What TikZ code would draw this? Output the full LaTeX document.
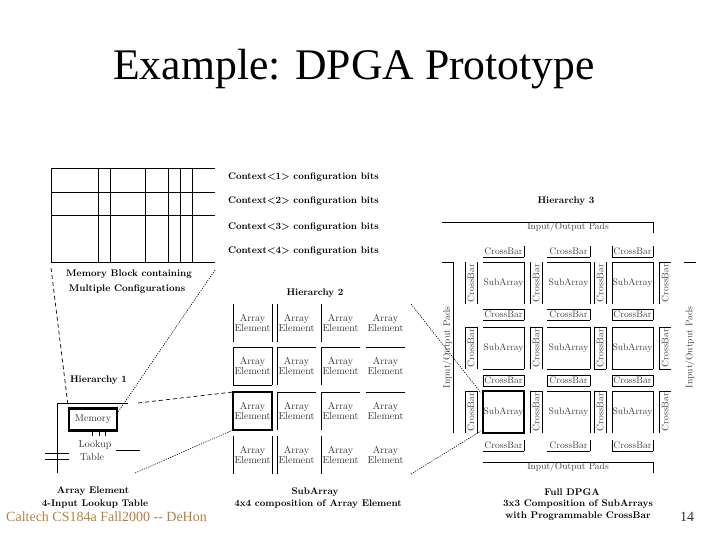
\documentclass[tikz,border=0pt]{standalone}
\usepackage{fontspec}
\usepackage{xcolor}
\usetikzlibrary{positioning}
\newfontfamily\slidefont{Liberation Serif}
\definecolor{footbrown}{HTML}{B9803C}

\begin{document}
\begin{tikzpicture}[
    x=1pt, y=-1pt,
    node distance=5pt and 5pt,
    wire/.style={line width=0.9pt, line cap=rect},
    sideT/.style={append after command={(\tikzlastnode.north west) edge[wire] (\tikzlastnode.north east)}},
    sideB/.style={append after command={(\tikzlastnode.south west) edge[wire] (\tikzlastnode.south east)}},
    sideL/.style={append after command={(\tikzlastnode.north west) edge[wire] (\tikzlastnode.south west)}},
    sideR/.style={append after command={(\tikzlastnode.north east) edge[wire] (\tikzlastnode.south east)}},
    lbl/.style={inner sep=0pt, outer sep=0pt, align=center, font=\bfseries\fontsize{9.65}{12.5}\selectfont},
    aelem/.style={inner sep=0pt, outer sep=0pt, align=center, minimum width=39pt, minimum height=38pt,
        text=black!80, font=\fontsize{10}{9.5}\selectfont},
    subarr/.style={inner sep=0pt, outer sep=0pt, minimum width=41pt, minimum height=42pt,
        text=black!75, font=\fontsize{9.5}{10}\selectfont},
    hbar/.style={inner sep=0pt, outer sep=0pt, minimum width=41pt, minimum height=11pt,
        text=black!75, font=\fontsize{9.5}{10}\selectfont},
    vbar/.style={inner sep=0pt, outer sep=0pt, minimum width=12pt, minimum height=42pt,
        text=black!75, font=\fontsize{9.5}{10}\selectfont},
    padbar/.style={inner sep=0pt, outer sep=0pt, text=black!75, font=\fontsize{9.5}{10}\selectfont},
    midcol/.style={minimum width=43pt},
    hot/.style={draw, line width=2.6pt},
    linkdash/.style={line width=0.7pt, dashed, dash pattern=on 4pt off 3pt},
    linkdot/.style={line width=0.6pt, dash pattern=on 1.2pt off 1.2pt}
]
    \useasboundingbox (0,0) rectangle (720,540);

    % Slide texts
    \node[anchor=base west, inner sep=0pt, font=\slidefont\fontsize{43.7}{44}\selectfont] (title) at (113,80) {Example: DPGA Prototype};
    \node[anchor=base west, inner sep=0pt, text=footbrown, font=\slidefont\fontsize{14}{14}\selectfont] (foot) at (6,521) {Caltech CS184a Fall2000 -- DeHon};
    \node[anchor=base west, inner sep=0pt, text=black!80, font=\slidefont\fontsize{14}{14}\selectfont] (pageno) at (680,521) {14};

    % Memory block
    \node[anchor=north west, inner sep=0pt, outer sep=0pt, minimum width=164pt, minimum height=94pt, sideT, sideB, sideL] (memblk) at (51,168) {};
    \draw[wire] ([yshift=-24pt]memblk.north west) -- ([yshift=-24pt]memblk.north east);
    \draw[wire] ([yshift=-47pt]memblk.north west) -- ([yshift=-47pt]memblk.north east);
    \draw[wire] ([xshift=47pt]memblk.north west) -- ([xshift=47pt]memblk.south west);
    \draw[wire] ([xshift=59pt]memblk.north west) -- ([xshift=59pt]memblk.south west);
    \draw[wire] ([xshift=94pt]memblk.north west) -- ([xshift=94pt]memblk.south west);
    \draw[wire] ([xshift=117pt]memblk.north west) -- ([xshift=117pt]memblk.south west);
    \draw[wire] ([xshift=129pt]memblk.north west) -- ([xshift=129pt]memblk.south west);
    \draw[wire] ([xshift=141pt]memblk.north west) -- ([xshift=141pt]memblk.south west);

    \node[lbl, anchor=west] (ctx1) at (228,177) {Context<1> configuration bits};
    \node[lbl, anchor=west] (ctx2) at (228,201) {Context<2> configuration bits};
    \node[lbl, anchor=west] (ctx3) at (228,227) {Context<3> configuration bits};
    \node[lbl, anchor=west] (ctx4) at (228,251) {Context<4> configuration bits};
    \node[lbl] (memcap1) at (129,274) {Memory Block containing};
    \node[lbl] (memcap2) at (127,289) {Multiple Configurations};

    % Hierarchy 1: array element
    \node[lbl, anchor=west] (hier1) at (70,380) {Hierarchy 1};
    \node[anchor=north west, inner sep=0pt, outer sep=0pt, minimum width=71pt, minimum height=70pt, sideT, sideL] (lut) at (57,403) {};
    \node[anchor=north west, inner sep=0pt, outer sep=0pt, minimum width=48pt, minimum height=22pt, hot, font=\fontsize{10}{10}\selectfont, text=black!80] (mem) at (69,408.5) {Memory};
    \node[lbl, font=\fontsize{10}{10}\selectfont, text=black!80] (lkup) at (95,445) {Lookup};
    \node[lbl, font=\fontsize{10}{10}\selectfont, text=black!80] (tbl) at (92,457) {Table};
    \draw[wire] ([xshift=-1pt]mem.south) -- ([xshift=-1pt,yshift=-5pt]mem.south);
    \draw[wire] ([xshift=6pt]mem.south) -- ([xshift=6pt,yshift=-5pt]mem.south);
    \draw[wire] ([xshift=12pt]mem.south) -- ([xshift=12pt,yshift=-5pt]mem.south);
    \coordinate (outA) at (116,450);
    \coordinate (outB) at (140,450);
    \coordinate (inA) at (45,453);
    \coordinate (inB) at (69,453);
    \coordinate (inC) at (45,459);
    \coordinate (inD) at (69,459);
    \draw[wire] (outA) -- (outB);
    \draw[wire] (inA) -- (inB);
    \draw[wire] (inC) -- (inD);
    \node[lbl] (aecap1) at (93,491) {Array Element};
    \node[lbl] (aecap2) at (95,504) {4-Input Lookup Table};

    % Hierarchy 2: sub array
    \node[lbl] (hier2) at (315,293) {Hierarchy 2};
    \node[aelem, anchor=north west, sideL, sideR] (ae11) at (233,304) {Array\\Element};
    \node[aelem, right=of ae11, sideL] (ae12) {Array\\Element};
    \node[aelem, right=of ae12, sideL] (ae13) {Array\\Element};
    \node[aelem, right=6pt of ae13] (ae14) {Array\\Element};
    \node[aelem, below=of ae11, sideT, sideB, sideL, sideR] (ae21) {Array\\Element};
    \node[aelem, right=of ae21, sideT, sideL] (ae22) {Array\\Element};
    \node[aelem, right=of ae22, sideT, sideL] (ae23) {Array\\Element};
    \node[aelem, right=6pt of ae23, sideT] (ae24) {Array\\Element};
    \node[aelem, below=7pt of ae21, hot] (ae31) {Array\\Element};
    \node[aelem, right=of ae31, sideT, sideL] (ae32) {Array\\Element};
    \node[aelem, right=of ae32, sideT, sideL] (ae33) {Array\\Element};
    \node[aelem, right=6pt of ae33, sideT] (ae34) {Array\\Element};
    \node[aelem, below=6pt of ae31, sideL, sideR] (ae41) {Array\\Element};
    \node[aelem, right=of ae41, sideL] (ae42) {Array\\Element};
    \node[aelem, right=of ae42, sideL] (ae43) {Array\\Element};
    \node[aelem, right=6pt of ae43] (ae44) {Array\\Element};
    \node[lbl] (sacap1) at (315,492) {SubArray};
    \node[lbl] (sacap2) at (318,504) {4x4 composition of Array Element};

    % Hierarchy 3: full DPGA
    \node[lbl] (hier3) at (566,201) {Hierarchy 3};
    \node[subarr, anchor=north west, sideT, sideR] (sa11) at (483,262) {SubArray};
    \node[subarr, midcol, right=23pt of sa11, sideT, sideR] (sa12) {SubArray};
    \node[subarr, right=22pt of sa12, sideT, sideL, sideR] (sa13) {SubArray};
    \node[hbar, above=of sa11, sideB, sideR] (hb11) {CrossBar};
    \node[hbar, midcol, above=of sa12, sideB, sideR] (hb12) {CrossBar};
    \node[hbar, above=of sa13, sideB, sideL, sideR] (hb13) {CrossBar};
    \node[hbar, below=of sa11, sideT, sideB, sideR] (hb21) {CrossBar};
    \node[hbar, midcol, below=of sa12, sideT, sideB, sideR] (hb22) {CrossBar};
    \node[hbar, below=of sa13, sideT, sideB, sideL, sideR] (hb23) {CrossBar};
    \node[subarr, below=7pt of hb21, sideT, sideB, sideR] (sa21) {SubArray};
    \node[subarr, midcol, below=7pt of hb22, sideT, sideB, sideR] (sa22) {SubArray};
    \node[subarr, below=7pt of hb23, sideT, sideB, sideL, sideR] (sa23) {SubArray};
    \node[hbar, below=6pt of sa21, sideT, sideB, sideL, sideR] (hb31) {CrossBar};
    \node[hbar, midcol, below=6pt of sa22, sideT, sideB, sideL, sideR] (hb32) {CrossBar};
    \node[hbar, below=6pt of sa23, sideT, sideB, sideL, sideR] (hb33) {CrossBar};
    \node[subarr, below=of hb31, hot] (sa31) {SubArray};
    \node[subarr, midcol, below=of hb32, sideT, sideR] (sa32) {SubArray};
    \node[subarr, below=of hb33, sideT, sideL, sideR] (sa33) {SubArray};
    \node[hbar, below=7pt of sa31, sideB, sideR] (hb41) {CrossBar};
    \node[hbar, midcol, below=7pt of sa32, sideB, sideR] (hb42) {CrossBar};
    \node[hbar, below=7pt of sa33, sideB, sideL, sideR] (hb43) {CrossBar};

    \node[vbar, left=6pt of sa11, sideL, sideR] (vb11) {\rotatebox{90}{CrossBar}};
    \node[vbar, right=6pt of sa11, sideL, sideR] (vb12) {\rotatebox{90}{CrossBar}};
    \node[vbar, left=6pt of sa13, sideL, sideR] (vb13) {\rotatebox{90}{CrossBar}};
    \node[vbar, right=6pt of sa13, sideT, sideL] (vb14) {\rotatebox{90}{CrossBar}};
    \node[vbar, left=6pt of sa21, sideT, sideL, sideR] (vb21) {\rotatebox{90}{CrossBar}};
    \node[vbar, right=6pt of sa21, sideT, sideL, sideR] (vb22) {\rotatebox{90}{CrossBar}};
    \node[vbar, left=6pt of sa23, sideT, sideB, sideL, sideR] (vb23) {\rotatebox{90}{CrossBar}};
    \node[vbar, right=6pt of sa23, sideT, sideB, sideL] (vb24) {\rotatebox{90}{CrossBar}};
    \node[vbar, left=6pt of sa31, sideT, sideL, sideR] (vb31) {\rotatebox{90}{CrossBar}};
    \node[vbar, right=6pt of sa31, sideT, sideL, sideR] (vb32) {\rotatebox{90}{CrossBar}};
    \node[vbar, left=6pt of sa33, sideT, sideL, sideR] (vb33) {\rotatebox{90}{CrossBar}};
    \node[vbar, right=6pt of sa33, sideT, sideL] (vb34) {\rotatebox{90}{CrossBar}};

    % Pads round the array
    \node[padbar, anchor=north west, minimum width=170pt, minimum height=11pt, sideT, sideR] (padN) at (483,222) {Input/Output Pads};
    \draw[wire] ([xshift=-41pt]padN.north west) -- (padN.north west);
    \node[padbar, anchor=north west, minimum width=170pt, minimum height=11pt, sideT, sideR] (padS) at (483,462) {Input/Output Pads};
    \node[padbar, anchor=north west, minimum width=11pt, minimum height=171pt, sideT, sideR] (padW) at (442,262) {\rotatebox{90}{Input/Output Pads}};
    \node[padbar, anchor=north west, minimum width=12pt, minimum height=171pt, sideT] (padE) at (684,262) {\rotatebox{90}{Input/Output Pads}};
    \node[lbl] (dpgacap1) at (572,492) {Full DPGA};
    \node[lbl] (dpgacap2) at (578,504) {3x3 Composition of SubArrays};
    \node[lbl] (dpgacap3) at (578,516) {with Programmable CrossBar};

    % Zoom lines
    \draw[linkdash] ([yshift=-6pt]memblk.south west) -- ([yshift=-5pt]mem.north west);
    \draw[linkdot] ([yshift=-8pt]memblk.south east) -- ([yshift=-5pt]mem.north east);
    \draw[linkdash] ([xshift=10pt]lut.north east) -- (ae31.north west);
    \draw[linkdot] ([xshift=7pt]lut.south east) -- (ae31.south west);
    \draw[linkdot] ([xshift=6pt]ae14.north east) -- ([xshift=-2pt,yshift=-2pt]sa31.north west);
    \draw[linkdot] ([xshift=6pt]ae44.south east) -- ([xshift=-2pt,yshift=2pt]sa31.south west);
\end{tikzpicture}
\end{document}
